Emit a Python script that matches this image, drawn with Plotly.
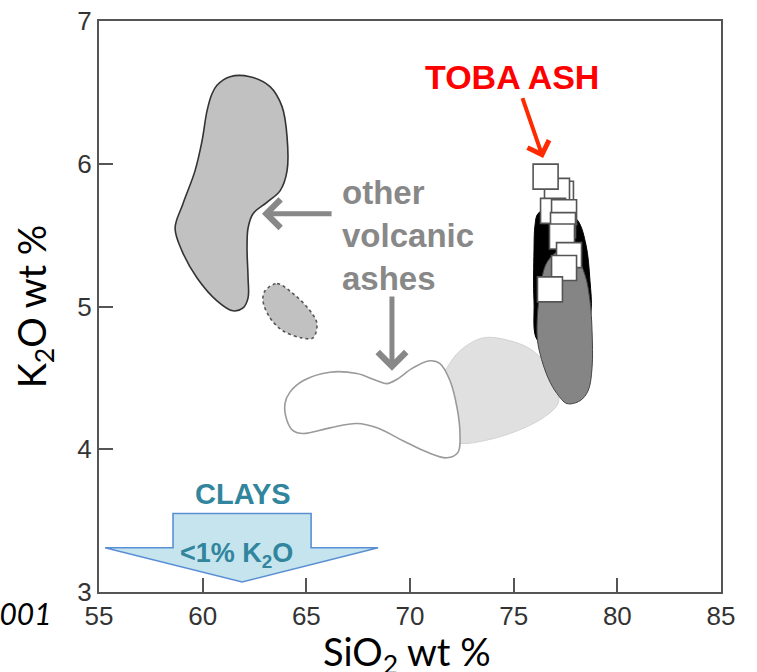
import plotly.graph_objects as go

# ---------------- data (SiO2 wt %, K2O wt %) ----------------
x_ticks = [55, 60, 65, 70, 75, 80, 85]
y_ticks = [3, 4, 5, 6, 7]

# large grey field (other volcanic ashes)
blob1_x = [60.69, 61.32, 62.28, 63.25, 63.83, 64.07, 64.07, 63.73, 63.10, 62.43, 62.19, 62.14,
           62.19, 62.19, 61.95, 61.46, 60.69, 59.73, 59.00, 58.67, 59.05, 59.63, 59.97, 60.21,
           60.45, 60.69]
blob1_y = [6.55, 6.61, 6.61, 6.54, 6.40, 6.19, 5.95, 5.81, 5.73, 5.65, 5.55, 5.41,
           5.20, 5.06, 4.99, 4.97, 5.04, 5.20, 5.39, 5.55, 5.72, 5.95, 6.16, 6.37,
           6.49, 6.55]

# small dotted grey field
blob2_x = [63.01, 63.59, 64.36, 65.18, 65.51, 65.32, 64.79, 63.87, 63.25, 62.91, 63.01]
blob2_y = [5.11, 5.16, 5.09, 4.97, 4.88, 4.78, 4.78, 4.83, 4.92, 5.04, 5.11]

# light grey field
light_x = [71.45, 71.78, 72.41, 73.52, 74.82, 75.93, 76.75, 77.14, 77.14, 76.42, 74.82, 73.23,
           72.51, 71.69, 71.45]
light_y = [4.48, 4.57, 4.69, 4.78, 4.76, 4.69, 4.55, 4.40, 4.32, 4.22, 4.11, 4.05,
           4.04, 4.06, 4.48]

# white (outlined) field
white_x = [63.97, 64.21, 64.84, 66.14, 67.44, 68.41, 68.89, 69.37, 70.14, 70.96, 71.45, 71.93,
           72.27, 72.41, 72.32, 71.78, 70.82, 69.66, 68.41, 67.44, 66.14, 64.84, 64.36, 64.07,
           63.97]
white_y = [4.32, 4.40, 4.48, 4.54, 4.53, 4.48, 4.46, 4.49, 4.57, 4.62, 4.60, 4.48,
           4.29, 4.11, 3.98, 3.94, 3.98, 4.06, 4.15, 4.18, 4.15, 4.11, 4.13, 4.20,
           4.32]

# Toba black field
black_x = [76.17, 76.75, 77.48, 78.10, 78.49, 78.68, 78.73, 78.44, 77.24, 76.17, 75.98, 75.98,
           76.03, 76.17]
black_y = [5.65, 5.69, 5.67, 5.60, 5.43, 5.18, 4.97, 4.83, 4.73, 4.76, 5.04, 5.39,
           5.57, 5.65]

# Toba dark grey field
dark_x = [76.61, 77.24, 77.96, 78.44, 78.68, 78.78, 78.78, 78.59, 78.20, 77.57, 77.09, 76.66,
          76.27, 76.13, 76.27, 76.61]
dark_y = [5.31, 5.39, 5.36, 5.22, 5.04, 4.83, 4.57, 4.41, 4.34, 4.32, 4.39, 4.50,
          4.67, 4.80, 5.11, 5.31]

# Toba ash samples (squares)
toba_x = [77.28, 77.09, 76.90, 77.43, 77.38, 77.33, 77.67, 77.43, 76.75, 76.54]
toba_y = [5.79, 5.81, 5.67, 5.66, 5.57, 5.49, 5.36, 5.27, 5.12, 5.91]

# clays arrow
clay_x = [55.29, 58.57, 58.57, 65.23, 65.23, 68.46, 61.90, 55.29]
clay_y = [3.31, 3.31, 3.55, 3.55, 3.31, 3.31, 3.07, 3.31]

# labels / arrows (data coordinates)
toba_label = (74.92, 6.61)
toba_arrow = ((75.40, 6.47), (76.42, 6.04))
ash_label = (66.62, 5.50)
ash_arrow1 = ((66.29, 5.65), (62.86, 5.65))
ash_arrow2 = ((69.13, 5.08), (69.13, 4.55))
clays_label = (61.95, 3.69)
k2o_label = (61.63, 3.26)

fig = go.Figure()

def field(xs, ys, fill, line_color, line_width, dash="solid", smooth=True):
    fig.add_trace(go.Scatter(
        x=xs, y=ys, mode="lines", fill="toself", fillcolor=fill,
        line=dict(color=line_color, width=line_width, dash=dash,
                  shape="spline" if smooth else "linear", smoothing=1.0),
        hoverinfo="skip", showlegend=False))

field(blob1_x, blob1_y, "#c1c1c1", "#333333", 1.6)
field(blob2_x, blob2_y, "#c1c1c1", "#555555", 1.6, dash="dot")
field(light_x, light_y, "#e0e0e0", "#d2d2d2", 1.0)
field(white_x, white_y, "#ffffff", "#9a9a9a", 1.6)
field(black_x, black_y, "#000000", "#000000", 1.0)
field(dark_x, dark_y, "#858585", "#444444", 1.0)

fig.add_trace(go.Scatter(
    x=toba_x, y=toba_y, mode="markers",
    marker=dict(symbol="square", size=25, color="#ffffff",
                line=dict(color="#555555", width=1.6)),
    hoverinfo="skip", showlegend=False))

field(clay_x, clay_y, "#c5e4ee", "#5b8fd3", 1.6, smooth=False)

teal = "#31859c"
grey = "#888888"
ann = []
ann.append(dict(x=toba_label[0], y=toba_label[1], text="TOBA ASH", showarrow=False,
                font=dict(family="Liberation Sans", size=34, color="#ff0000", weight="bold")))
ann.append(dict(x=toba_arrow[1][0], y=toba_arrow[1][1], ax=toba_arrow[0][0], ay=toba_arrow[0][1],
                axref="x", ayref="y", text="", showarrow=True, arrowhead=4, arrowsize=1.1,
                arrowwidth=4, arrowcolor="#ff2a00", standoff=0))
ann.append(dict(x=ash_label[0], y=ash_label[1], text="other<br>volcanic<br>ashes",
                showarrow=False, xanchor="left", yanchor="middle", align="left",
                font=dict(family="Liberation Sans", size=33, color=grey, weight="bold")))
for tail, head in (ash_arrow1, ash_arrow2):
    ann.append(dict(x=head[0], y=head[1], ax=tail[0], ay=tail[1], axref="x", ayref="y",
                    text="", showarrow=True, arrowhead=4, arrowsize=1.1, arrowwidth=5,
                    arrowcolor=grey, standoff=0))
ann.append(dict(x=clays_label[0], y=clays_label[1], text="CLAYS", showarrow=False,
                font=dict(family="Liberation Sans", size=29, color=teal, weight="bold")))
ann.append(dict(x=k2o_label[0], y=k2o_label[1], text="<1% K<sub>2</sub>O", showarrow=False,
                font=dict(family="Liberation Sans", size=27, color=teal, weight="bold")))
ann.append(dict(xref="paper", yref="paper", x=-0.072, y=-0.036, text="2001",
                showarrow=False, xanchor="right", yanchor="middle",
                font=dict(family="Lato", size=30, color="#000000", style="italic")))
# x axis title (placed as annotation so it can sit low, as in the original)
ann.append(dict(xref="paper", yref="paper", x=0.495, y=-0.108,
                text="SiO<sub>2</sub> wt %", showarrow=False,
                xanchor="center", yanchor="middle",
                font=dict(family="Lato", size=38, color="#000000")))

axis_common = dict(showline=True, linecolor="#555555", linewidth=2, mirror=True,
                   ticks="inside", ticklen=14, tickwidth=2, tickcolor="#555555",
                   showgrid=False, zeroline=False, automargin=False,
                   tickfont=dict(family="Liberation Sans", size=26, color="#333333"))

fig.update_layout(
    width=757, height=672,
    margin=dict(l=99, r=36, t=21, b=80),
    plot_bgcolor="#ffffff", paper_bgcolor="#ffffff",
    showlegend=False,
    annotations=ann,
    xaxis=dict(range=[55, 85], tickvals=x_ticks, **axis_common),
    yaxis=dict(range=[3, 7], tickvals=y_ticks, **axis_common,
               title=dict(text="K<sub>2</sub>O wt %", standoff=19,
                          font=dict(family="Lato", size=38, color="#000000"))),
)

fig.write_html("out.html")
